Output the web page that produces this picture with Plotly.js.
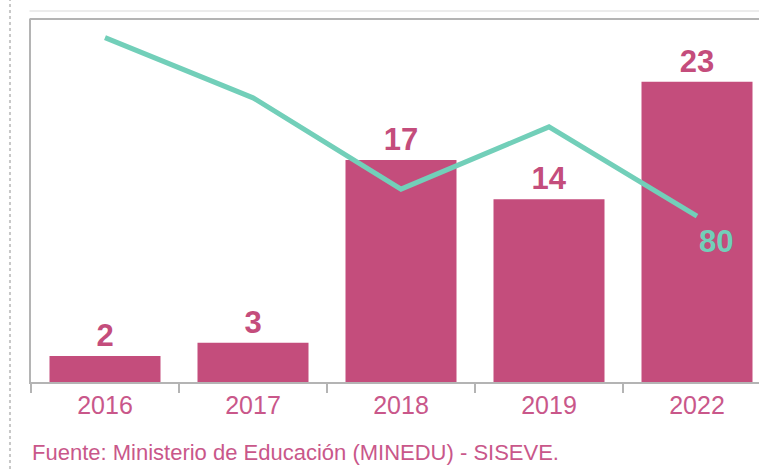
<!DOCTYPE html>
<html>
<head>
<meta charset="utf-8">
<script src="https://cdn.plot.ly/plotly-3.0.1.min.js"></script>
<style>
html,body{margin:0;padding:0;overflow:hidden;background:#fff;width:759px;height:469px;}
#chart{width:790px;height:469px;}
</style>
</head>
<body>
<div id="chart"></div>
<script>
const years = ['2016', '2017', '2018', '2019', '2022'];
const barValues = [2, 3, 17, 14, 23];
const lineValues = [166, 137, 93, 123, 80];
const lineLabelIndex = 4;
const sourceText = 'Fuente: Ministerio de Educación (MINEDU) - SISEVE.';

const pink = '#c44d7c';
const teal = '#72cfb9';
const axisGray = '#b4b4b4';
const fontFam = 'Liberation Sans, Arial, sans-serif';

const traces = [
  {
    type: 'bar',
    x: years,
    y: barValues,
    marker: {color: pink},
    text: barValues.map(String),
    textposition: 'outside',
    textfont: {family: fontFam, size: 31, color: pink, weight: 'bold'},
    cliponaxis: false,
    hoverinfo: 'none'
  },
  {
    type: 'scatter',
    mode: 'lines',
    x: years,
    y: lineValues,
    yaxis: 'y2',
    line: {color: teal, width: 5},
    cliponaxis: false,
    hoverinfo: 'none'
  }
];

const layout = {
  width: 790,
  height: 469,
  margin: {l: 31, r: 19, t: 19, b: 87},
  paper_bgcolor: '#fff',
  plot_bgcolor: '#fff',
  showlegend: false,
  bargap: 0.25,
  font: {family: fontFam},
  xaxis: {
    type: 'category',
    categoryorder: 'array',
    categoryarray: years,
    range: [-0.5, years.length - 0.5],
    showline: true,
    linecolor: axisGray,
    linewidth: 2,
    ticks: 'outside',
    tickson: 'boundaries',
    ticklen: 9,
    tickwidth: 2,
    tickcolor: axisGray,
    tickfont: {size: 25, color: '#c9578a'},
    showgrid: false,
    zeroline: false
  },
  yaxis: {
    range: [0, 27.8],
    showline: true,
    linecolor: axisGray,
    linewidth: 2,
    showticklabels: false,
    ticks: '',
    showgrid: false,
    zeroline: false
  },
  yaxis2: {
    overlaying: 'y',
    range: [0, 175],
    visible: false
  },
  shapes: [
    {type: 'line', xref: 'paper', yref: 'paper', x0: -0.002, x1: 1.05, y0: 1, y1: 1, line: {color: axisGray, width: 2}},
    {type: 'line', xref: 'paper', yref: 'paper', x0: -0.002, x1: 1.05, y0: 1.022, y1: 1.022, line: {color: '#ececec', width: 2}},
    {type: 'line', xref: 'paper', yref: 'paper', x0: -0.0284, x1: -0.0284, y0: -0.24, y1: 1.06, line: {color: '#c8c8c8', width: 2, dash: 'dot'}}
  ],
  annotations: [
    {
      text: String(lineValues[lineLabelIndex]),
      x: lineLabelIndex, y: lineValues[lineLabelIndex],
      xref: 'x', yref: 'y2',
      xanchor: 'center', yanchor: 'middle',
      xshift: 19, yshift: -25,
      showarrow: false,
      font: {family: fontFam, size: 31, color: teal, weight: 'bold'}
    },
    {
      text: sourceText,
      xref: 'paper', yref: 'paper',
      x: -0.0015, y: -0.195,
      xanchor: 'left', yanchor: 'middle',
      showarrow: false,
      font: {size: 22, color: '#c9578a'}
    }
  ]
};

Plotly.newPlot('chart', traces, layout, {displayModeBar: false, staticPlot: true});
</script>
</body>
</html>
